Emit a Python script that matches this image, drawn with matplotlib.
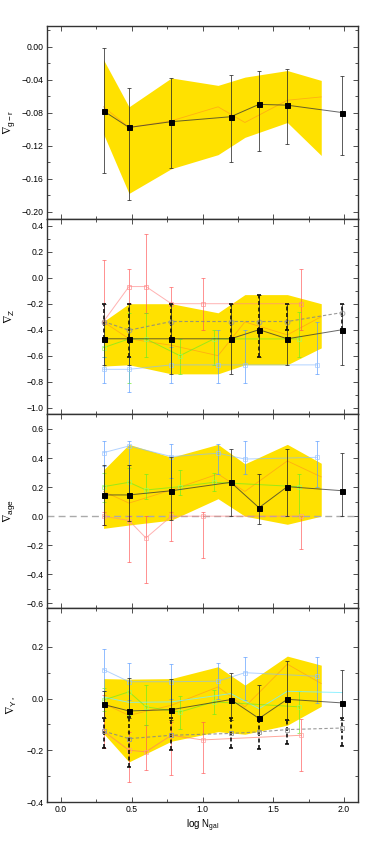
import numpy as np
import matplotlib
matplotlib.use("Agg")
import matplotlib.pyplot as plt
from matplotlib.ticker import MultipleLocator, FuncFormatter

plt.rcParams['font.family'] = ['Liberation Sans', 'DejaVu Sans']
plt.rcParams['mathtext.fontset'] = 'custom'
plt.rcParams['mathtext.rm'] = 'Liberation Sans'
plt.rcParams['mathtext.it'] = 'Liberation Sans'
plt.rcParams['mathtext.fallback'] = 'stixsans'

# ---------------- data ----------------
x_black = [0.30, 0.48, 0.78, 1.20, 1.40, 1.60, 1.99]
x_band = [0.30, 0.48, 0.78, 1.11, 1.30, 1.60, 1.84]
x_red = [0.30, 0.48, 0.60, 0.78, 1.00, 1.70]
x_green = [0.30, 0.48, 0.60, 0.84, 1.08, 1.68]
x_blue = [0.30, 0.48, 0.78, 1.11, 1.30, 1.81]

# panel 1: g-r
gr_black = [-0.078, -0.098, -0.091, -0.085, -0.070, -0.071, -0.080]
gr_black_lo = [-0.153, -0.186, -0.147, -0.140, -0.126, -0.118, -0.132]
gr_black_hi = [-0.002, -0.050, -0.038, -0.034, -0.030, -0.027, -0.036]
gr_band_lo = [-0.106, -0.178, -0.148, -0.131, -0.110, -0.092, -0.132]
gr_band_hi = [-0.016, -0.073, -0.038, -0.047, -0.037, -0.029, -0.041]
gr_band_med = [-0.073, -0.098, -0.090, -0.073, -0.092, -0.065, -0.061]

# panel 2: Z
z_black = [-0.47, -0.47, -0.47, -0.47, -0.40, -0.47, -0.40]
z_black_lo = [-0.67, -0.67, -0.74, -0.74, -0.61, -0.67, -0.67]
z_black_hi = [-0.20, -0.20, -0.20, -0.20, -0.13, -0.20, -0.20]
z_dash = [-0.337, -0.404, -0.337, -0.337, -0.337, -0.337, -0.268]
z_dash_lo = [-0.47, -0.61, -0.47, -0.47, -0.61, -0.40, -0.40]
z_dash_hi = [-0.20, -0.20, -0.20, -0.20, -0.13, -0.20, -0.20]
z_red = [-0.337, -0.068, -0.068, -0.20, -0.20, -0.20]
z_red_lo = [-0.337, -0.196, -0.273, -0.20, -0.404, -0.404]
z_red_hi = [0.138, 0.066, 0.336, -0.068, 0.0, 0.069]
z_green = [-0.538, -0.471, -0.471, -0.60, -0.471, -0.471]
z_green_lo = [-0.607, -0.81, -0.607, -0.74, -0.671, -0.607]
z_green_hi = [-0.47, -0.27, -0.273, -0.473, -0.401, -0.265]
z_blue = [-0.705, -0.705, -0.671, -0.671, -0.671, -0.671]
z_blue_lo = [-0.807, -0.877, -0.807, -0.807, -0.807, -0.74]
z_blue_hi = [-0.607, -0.607, -0.537, -0.401, -0.401, -0.337]
z_band_lo = [-0.68, -0.67, -0.74, -0.74, -0.67, -0.67, -0.54]
z_band_hi = [-0.337, -0.20, -0.20, -0.27, -0.13, -0.13, -0.20]
z_band_med = [-0.34, -0.47, -0.52, -0.60, -0.34, -0.44, -0.30]

# panel 3: age
a_black = [0.146, 0.146, 0.175, 0.233, 0.058, 0.203, 0.175]
a_black_lo = [-0.061, -0.03, -0.026, 0.0, -0.056, 0.0, 0.0]
a_black_hi = [0.352, 0.35, 0.405, 0.462, 0.29, 0.462, 0.433]
a_red = [0.0, -0.03, -0.15, 0.0, 0.0, 0.0]
a_red_lo = [-0.06, -0.318, -0.462, -0.171, -0.286, -0.228]
a_red_hi = [0.03, 0.0, 0.0, 0.03, 0.03, 0.0]
a_green = [0.203, 0.233, 0.18, 0.203, 0.233, 0.203]
a_green_lo = [0.10, 0.13, 0.116, 0.146, 0.175, 0.0]
a_green_hi = [0.30, 0.33, 0.288, 0.318, 0.295, 0.288]
a_blue = [0.437, 0.483, 0.41, 0.433, 0.393, 0.405]
a_blue_lo = [0.345, 0.15, 0.26, 0.288, 0.288, 0.203]
a_blue_hi = [0.52, 0.52, 0.494, 0.494, 0.52, 0.52]
a_band_lo = [-0.084, -0.061, -0.027, 0.12, 0.0, -0.056, 0.0]
a_band_hi = [0.318, 0.494, 0.405, 0.494, 0.36, 0.494, 0.364]
a_band_med = [0.17, 0.09, 0.18, 0.29, 0.17, 0.38, 0.27]
a_dash_level = 0.0

# panel 4: Upsilon*
u_black = [-0.023, -0.048, -0.043, -0.004, -0.077, -0.003, -0.017]
u_black_lo = [-0.077, -0.077, -0.084, -0.084, -0.084, -0.084, -0.084]
u_black_hi = [0.03, 0.08, 0.077, 0.10, 0.054, 0.145, 0.11]
u_dash = [-0.126, -0.155, -0.142, -0.135, -0.129, -0.12, -0.114]
u_dash_lo = [-0.191, -0.265, -0.20, -0.19, -0.194, -0.177, -0.185]
u_dash_hi = [-0.077, -0.073, -0.077, -0.077, -0.084, -0.084, -0.077]
u_red = [-0.126, -0.20, -0.206, -0.142, -0.16, -0.142]
u_red_lo = [-0.19, -0.323, -0.277, -0.297, -0.288, -0.281]
u_red_hi = [0.013, -0.13, -0.103, -0.09, -0.09, -0.08]
u_green = [-0.006, 0.026, -0.032, -0.052, -0.013, -0.032]
u_green_lo = [-0.05, -0.065, -0.103, -0.116, -0.058, -0.132]
u_green_hi = [0.039, 0.058, 0.052, 0.009, 0.032, 0.028]
u_blue = [0.112, 0.065, 0.065, 0.067, 0.10, 0.086]
u_blue_lo = [0.03, -0.005, -0.003, 0.0, -0.006, -0.019]
u_blue_hi = [0.19, 0.138, 0.133, 0.138, 0.159, 0.161]
u_cyan = [0.006, -0.015, -0.013, 0.019, -0.039, 0.028, 0.023]
u_band_lo = [-0.135, -0.245, -0.165, -0.128, -0.138, -0.103, -0.03]
u_band_hi = [0.077, 0.075, 0.077, 0.123, 0.052, 0.164, 0.129]
u_band_med = [-0.02, -0.065, -0.026, 0.045, -0.032, 0.133, 0.058]

ylabels = [r'$\nabla_{g-r}$', r'$\nabla_{Z}$', r'$\nabla_{age}$', r'$\nabla_{\Upsilon_*}$']

# ---------------- styling ----------------
YELLOW = '#FFE100'
RED = '#FF5555'
GREEN = '#66EE22'
BLUE = '#5599FF'
CYAN = '#77EEFF'

W, H = 374, 841
fig = plt.figure(figsize=(W / 100, H / 100), dpi=100)
left, right = 47, 358
bounds = [26, 219, 414, 608, 802]
axes = []
for i in range(4):
    t, b = bounds[i], bounds[i + 1]
    ax = fig.add_axes([left / W, 1 - b / H, (right - left) / W, (b - t) / H])
    axes.append(ax)


def errs(v, lo, hi):
    v = np.asarray(v, float)
    return [np.abs(v - np.asarray(lo, float)), np.abs(np.asarray(hi, float) - v)]


def series(ax, x, v, lo, hi, color, lcolor, marker, mfc, mec, ms=3.2,
           alpha=0.65, z=3, ls='-', lw=0.7, ecolor=None, elw=0.7, els='-'):
    eb = ax.errorbar(x, v, yerr=errs(v, lo, hi), fmt='none',
                     ecolor=ecolor or color, elinewidth=elw, capsize=1.2,
                     capthick=elw, alpha=alpha, zorder=z)
    if els != '-':
        for lc in eb[2]:
            lc.set_linestyle((0, (2.2, 1.4)))
    ax.plot(x, v, ls=ls, color=lcolor, lw=lw, alpha=alpha, zorder=z + 0.1)
    if marker:
        ax.plot(x, v, ls='none', marker=marker, ms=ms, mfc=mfc, mec=mec,
                mew=0.7, zorder=z + 0.2, alpha=1 if mfc != 'none' else alpha)


def band(ax, lo, hi, med):
    ax.fill_between(x_band, lo, hi, color=YELLOW, lw=0, zorder=1)
    ax.plot(x_band, med, color='#FF9A1A', lw=0.6, alpha=0.7, zorder=1.5)


def black(ax, v, lo, hi):
    series(ax, x_black, v, lo, hi, '#222222', '#333333', 's', 'black', 'black',
           ms=3.6, alpha=0.75, z=8, lw=0.7, elw=0.7)


def dashed(ax, v, lo, hi, marker='o'):
    series(ax, x_black, v, lo, hi, 'black', '#888888', marker, 'none', '#999999',
           ms=3.4, alpha=0.85, z=6, ls=(0, (3, 2)), lw=0.8, elw=1.3, els='--')


# panel 1
ax = axes[0]
band(ax, gr_band_lo, gr_band_hi, gr_band_med)
black(ax, gr_black, gr_black_lo, gr_black_hi)

# panel 2
ax = axes[1]
band(ax, z_band_lo, z_band_hi, z_band_med)
series(ax, x_red, z_red, z_red_lo, z_red_hi, RED, '#FF8888', 's', 'none', '#FF8888')
series(ax, x_green, z_green, z_green_lo, z_green_hi, GREEN, GREEN, 's', 'none', '#99FF66', ms=2.6)
series(ax, x_blue, z_blue, z_blue_lo, z_blue_hi, BLUE, '#88BBFF', 's', 'none', '#99C4FF')
dashed(ax, z_dash, z_dash_lo, z_dash_hi)
black(ax, z_black, z_black_lo, z_black_hi)

# panel 3
ax = axes[2]
band(ax, a_band_lo, a_band_hi, a_band_med)
ax.axhline(a_dash_level, color='#AAAAAA', lw=1.0, ls=(0, (5, 3)), zorder=2)
series(ax, x_red, a_red, a_red_lo, a_red_hi, RED, '#FF8888', 's', 'none', '#FF9999')
series(ax, x_green, a_green, a_green_lo, a_green_hi, GREEN, GREEN, 's', 'none', '#99FF66', ms=2.6)
series(ax, x_blue, a_blue, a_blue_lo, a_blue_hi, BLUE, '#88BBFF', 's', 'none', '#99C4FF')
black(ax, a_black, a_black_lo, a_black_hi)

# panel 4
ax = axes[3]
band(ax, u_band_lo, u_band_hi, u_band_med)
series(ax, x_red, u_red, u_red_lo, u_red_hi, RED, '#FF7766', 's', 'none', '#FF9999')
series(ax, x_green, u_green, u_green_lo, u_green_hi, GREEN, GREEN, 's', 'none', '#99FF66', ms=2.6)
series(ax, x_blue, u_blue, u_blue_lo, u_blue_hi, BLUE, '#88BBFF', 's', 'none', '#99C4FF')
ax.plot(x_black, u_cyan, color=CYAN, lw=0.7, alpha=0.8, zorder=3)
dashed(ax, u_dash, u_dash_lo, u_dash_hi, marker='s')
black(ax, u_black, u_black_lo, u_black_hi)

# ---------------- axes ----------------
ylims = [(-0.209, 0.025), (-1.049, 0.452), (-0.632, 0.703), (-0.40, 0.35)]
ymaj = [0.04, 0.2, 0.2, 0.2]
ymin = [0.02, 0.1, 0.1, 0.1]
ydec = [2, 1, 1, 1]


def make_fmt(nd):
    def f(v, pos):
        s = f"{round(v, nd) + 0.0:.{nd}f}"
        if s.startswith('-') and float(s) == 0:
            s = s[1:]
        return s.replace('-', '\u2212')
    return FuncFormatter(f)


for i, ax in enumerate(axes):
    ax.set_xlim(-0.1, 2.1)
    ax.set_ylim(*ylims[i])
    ax.xaxis.set_major_locator(MultipleLocator(0.5))
    ax.xaxis.set_minor_locator(MultipleLocator(0.25))
    ax.yaxis.set_major_locator(MultipleLocator(ymaj[i]))
    ax.yaxis.set_minor_locator(MultipleLocator(ymin[i]))
    ax.yaxis.set_major_formatter(make_fmt(ydec[i]))
    ax.tick_params(which='both', direction='in', top=True, right=True,
                   width=0.6, color='#333333', labelsize=6.2, pad=2.5)
    ax.tick_params(which='major', length=3.5)
    ax.tick_params(which='minor', length=2)
    for s in ax.spines.values():
        s.set_linewidth(1.0)
        s.set_color('#333333')
    ax.set_ylabel(ylabels[i], fontsize=8.5)
    ax.yaxis.set_label_coords(-0.095, 0.5)
    if i < 3:
        ax.tick_params(labelbottom=False)

axes[3].set_xlabel(r'log N$_{\rm gal}$', fontsize=7, labelpad=2)

fig.savefig('out.png', dpi=100)
